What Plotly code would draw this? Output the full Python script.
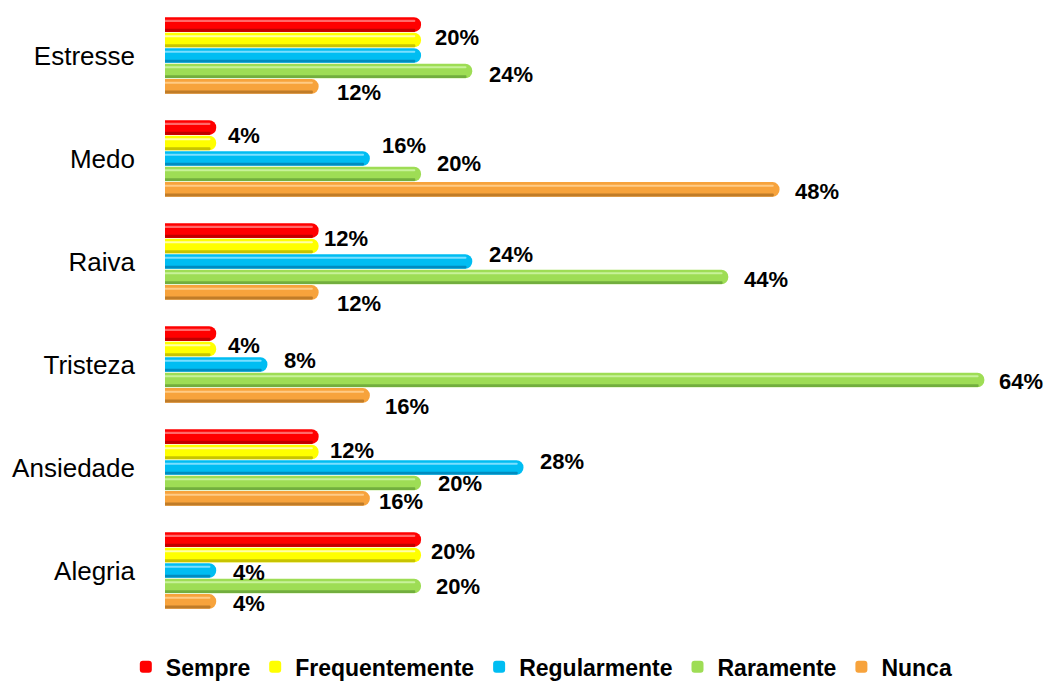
import plotly.graph_objects as go

# --- data -------------------------------------------------------------
categories = ["Estresse", "Medo", "Raiva", "Tristeza", "Ansiedade", "Alegria"]
series_names = ["Sempre", "Frequentemente", "Regularmente", "Raramente", "Nunca"]

sempre = [20, 4, 12, 4, 12, 20]
frequentemente = [20, 4, 12, 4, 12, 20]
regularmente = [20, 16, 24, 8, 28, 4]
raramente = [24, 20, 44, 64, 20, 20]
nunca = [12, 48, 12, 16, 16, 4]

series_values = [sempre, frequentemente, regularmente, raramente, nunca]

# --- style ------------------------------------------------------------
base_colors = ["#FF0000", "#FFFF00", "#00BDF2", "#9EDD55", "#F7A33C"]
dark_colors = ["#C00000", "#C8C400", "#008CC0", "#72AE3E", "#C07C28"]
light_colors = ["#FF6A6A", "#FFFFA8", "#7ADFFF", "#C8F29A", "#FFCB85"]

BAR_W = 0.142      # bar thickness (category units)
PITCH = 0.150      # distance between neighbouring bars in a group
STRIPE_INSET = 0.45  # stripes stop slightly short of the rounded tip

# label placement per (category, series): (gap px to the right, vertical nudge px, + is down)
label_style = {
    ("Estresse", "Frequentemente"): (12, -3),
    ("Estresse", "Raramente"): (15, 4),
    ("Estresse", "Nunca"): (16, 6),
    ("Medo", "Frequentemente"): (10, -8),
    ("Medo", "Regularmente"): (10, -13),
    ("Medo", "Raramente"): (14, -10),
    ("Medo", "Nunca"): (13, 2),
    ("Raiva", "Frequentemente"): (3, -8),
    ("Raiva", "Regularmente"): (15, -7),
    ("Raiva", "Raramente"): (14, 3),
    ("Raiva", "Nunca"): (16, 11),
    ("Tristeza", "Frequentemente"): (10, -4),
    ("Tristeza", "Regularmente"): (15, -4),
    ("Tristeza", "Raramente"): (13, 2),
    ("Tristeza", "Nunca"): (13, 11),
    ("Ansiedade", "Frequentemente"): (9, -2),
    ("Ansiedade", "Regularmente"): (15, -6),
    ("Ansiedade", "Raramente"): (15, 1),
    ("Ansiedade", "Nunca"): (7, 3),
    ("Alegria", "Frequentemente"): (8, -4),
    ("Alegria", "Regularmente"): (15, 2),
    ("Alegria", "Raramente"): (13, 1),
    ("Alegria", "Nunca"): (15, 2),
}

fig = go.Figure()
annotations = []

for i, (name, vals) in enumerate(zip(series_names, series_values)):
    center = (i - 2) * PITCH
    top = center - BAR_W / 2
    # main cylinder body
    fig.add_trace(go.Bar(
        name=name, x=vals, y=categories, orientation="h",
        width=BAR_W, offset=top,
        marker=dict(color=base_colors[i], cornerradius="50%",
                    line=dict(width=0)),
        hoverinfo="x+y+name",
    ))
    short = [max(v - STRIPE_INSET, 0) for v in vals]
    # lighter highlight near the top edge
    fig.add_trace(go.Bar(
        x=short, y=categories, orientation="h",
        width=0.02, offset=top + 0.025,
        marker=dict(color=light_colors[i], cornerradius="50%", line=dict(width=0)),
        showlegend=False, hoverinfo="skip",
    ))
    # darker shading along the bottom edge
    fig.add_trace(go.Bar(
        x=short, y=categories, orientation="h",
        width=0.028, offset=top + BAR_W - 0.03,
        marker=dict(color=dark_colors[i], cornerradius="50%", line=dict(width=0)),
        showlegend=False, hoverinfo="skip",
    ))
    for c_idx, cat in enumerate(categories):
        key = (cat, name)
        if key not in label_style:
            continue
        gap, nudge = label_style[key]
        annotations.append(dict(
            x=vals[c_idx], y=c_idx + center, xref="x", yref="y",
            text=f"{vals[c_idx]}%", showarrow=False,
            xanchor="left", yanchor="middle",
            xshift=gap, yshift=-nudge,
            font=dict(family="Arial, Liberation Sans", size=22, color="#000000", weight="bold"),
        ))

fig.update_layout(
    barmode="overlay",
    width=1048, height=684,
    margin=dict(l=165, r=38, t=4, b=62),
    paper_bgcolor="white", plot_bgcolor="white",
    annotations=annotations,
    xaxis=dict(range=[0, 66], visible=False, showgrid=False, zeroline=False),
    yaxis=dict(
        type="category", categoryorder="array", categoryarray=categories,
        range=[5.5, -0.5], showgrid=False, zeroline=False, showline=False,
        ticks="", ticklabelstandoff=29,
        tickfont=dict(family="Arial, Liberation Sans", size=26, color="#000000"),
    ),
    legend=dict(
        orientation="h", xref="container", yref="container",
        x=0.517, xanchor="center", y=0.025, yanchor="middle",
        font=dict(family="Arial, Liberation Sans", size=23, color="#000000", weight="bold"),
        itemclick=False, traceorder="normal", itemwidth=30,
    ),
    showlegend=True,
)

fig.write_html("out.html")
